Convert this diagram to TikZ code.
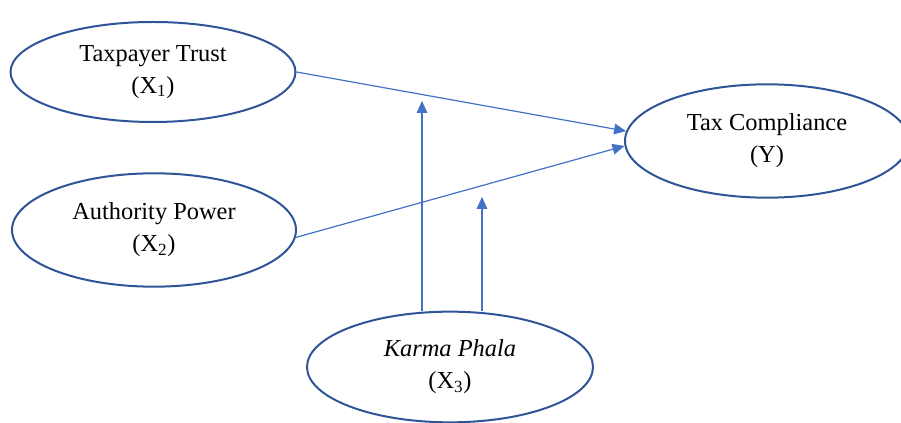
\documentclass[tikz,border=0pt]{standalone}
\usepackage{fontspec}
\setmainfont{Liberation Serif}
\usetikzlibrary{shapes.geometric,arrows.meta}
\definecolor{rim}{HTML}{2F5597}
\definecolor{link}{HTML}{4472C4}
\tikzset{
  construct/.style={ellipse, draw=rim, line width=1.5pt, minimum width=#1, align=center,
    inner sep=0pt, font=\fontsize{18.3}{24}\selectfont},
  path/.style={draw=link, line width=0.9pt, -{Triangle[length=9pt,width=8pt]}},
}
\begin{document}
\begin{tikzpicture}[x=0.75pt,y=-0.75pt]
\useasboundingbox (0,0) rectangle (901,423);
\clip (0,0) rectangle (901,423);
\node[construct=213.75pt, minimum height=75pt] (t) at (153,72) {Taxpayer Trust\\(X\textsubscript{1})};
\node[construct=213pt, minimum height=85pt] (a) at (154,230) {Authority Power\\(X\textsubscript{2})};
\node[construct=213pt, minimum height=85pt] (y) at (767,141) {Tax Compliance\\(Y)};
\node[construct=214.5pt, minimum height=83pt] (k) at (450,367) {\textit{Karma Phala}\\(X\textsubscript{3})};
\coordinate (m1) at (422,101);
\coordinate (m2) at (482,197);
\draw[path] (t.east) -- (y.176.4);
\draw[path] (a.357) -- (y.182.4);
\draw[path] (k.north -| m1) -- (m1);
\draw[path] (k.north -| m2) -- (m2);
\end{tikzpicture}
\end{document}
